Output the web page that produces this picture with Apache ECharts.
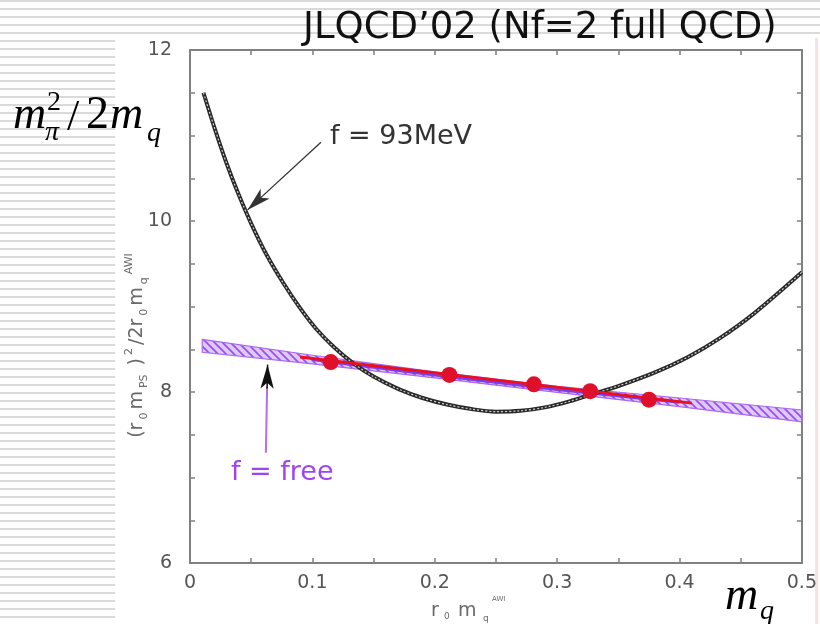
<!DOCTYPE html>
<html><head><meta charset="utf-8">
<script src="https://cdn.jsdelivr.net/npm/echarts@6/dist/echarts.min.js"></script>
<style>html,body{margin:0;padding:0;background:#fff}#c{width:820px;height:624px}</style>
</head><body><div id="c"></div>
<script>
// ---- data ----
const xTickLabels = ['0', '0.1', '0.2', '0.3', '0.4', '0.5'];
const yTickLabels = ['6', '8', '10', '12'];
const ptsX = [0.115, 0.212, 0.281, 0.327, 0.375];
const ptsY = [8.35, 8.20, 8.09, 8.01, 7.91];
const fitX = [0.09, 0.41];
const fitY = [8.41, 7.87];
const bandX  = [0.01, 0.1, 0.2, 0.3, 0.4, 0.5];
const bandLo = [8.465, 8.33, 8.165, 7.995, 7.83, 7.65];
const bandHi = [8.615, 8.43, 8.235, 8.065, 7.93, 7.79];
const f93X = [0.011, 0.020, 0.030, 0.040, 0.050, 0.062, 0.076, 0.090, 0.103, 0.118, 0.133, 0.150, 0.171, 0.190, 0.211, 0.230, 0.250, 0.270, 0.290, 0.310, 0.330, 0.350, 0.380, 0.407, 0.433, 0.461, 0.500];
const f93Y = [11.50, 11.09, 10.67, 10.30, 9.97, 9.62, 9.28, 8.98, 8.74, 8.52, 8.34, 8.18, 8.03, 7.93, 7.85, 7.80, 7.77, 7.78, 7.82, 7.89, 7.98, 8.07, 8.23, 8.41, 8.63, 8.92, 9.40];
const arrow93 = [[0.107, 10.92], [0.047, 10.13]];
const arrowFreeShaft = [[0.062, 7.29], [0.063, 8.06]];
const arrowFreeHead = [[0.063, 8.04], [0.0634, 8.32]];

const zip = (xs, ys) => xs.map((x, i) => [x, ys[i]]);

// hatch pattern for the f = free band
const pc = document.createElement('canvas');
pc.width = 8; pc.height = 8;
const g = pc.getContext('2d');
g.fillStyle = 'rgba(205,170,250,0.65)';
g.fillRect(0, 0, 8, 8);
g.strokeStyle = '#9a4cee';
g.lineWidth = 1.6;
g.beginPath();
g.moveTo(0, 0); g.lineTo(8, 8);
g.moveTo(-4, 4); g.lineTo(4, 12);
g.moveTo(4, -4); g.lineTo(12, 4);
g.stroke();

// background stripes (decoration)
const stripes = [];
for (let y = 0; y < 40; y += 8) stripes.push({type: 'rect', silent: true, z: -10, shape: {x: 0, y: y, width: 820, height: 2}, style: {fill: '#dadada'}});
for (let y = 40; y < 624; y += 8) stripes.push({type: 'rect', silent: true, z: -10, shape: {x: 0, y: y, width: 115, height: 2}, style: {fill: '#dadada'}});
stripes.push({type: 'rect', silent: true, z: -10, shape: {x: 815, y: 38, width: 3, height: 586}, style: {fill: '#fae0e0'}});

const serif = 'Liberation Serif';
const mathTexts = [
  {t: 'm', x: 13, b: 131, fs: 46, it: true},
  {t: '2', x: 47, b: 112, fs: 28, it: false},
  {t: 'π', x: 45, b: 142, fs: 28, it: true},
  {t: '/', x: 67, b: 133, fs: 44, it: false},
  {t: '2', x: 86, b: 131, fs: 46, it: false},
  {t: 'm', x: 110, b: 131, fs: 46, it: true},
  {t: 'q', x: 147, b: 143, fs: 28, it: true},
  {t: 'm', x: 725, b: 612, fs: 46, it: true},
  {t: 'q', x: 760, b: 621, fs: 28, it: true}
].map(o => ({type: 'text', silent: true, z: 50, x: o.x, y: o.b - 0.3375 * o.fs,
  style: {text: o.t, fontFamily: serif, fontSize: o.fs, fontStyle: o.it ? 'italic' : 'normal', fill: '#000', verticalAlign: 'middle', align: 'left'}}));

const grey = '#6a6a6a';
const ynameRich = {
  b: {fontSize: 19, lineHeight: 26, fill: grey, verticalAlign: 'middle', padding: [0, 3, 0, 0], fontFamily: 'DejaVu Sans'},
  s: {fontSize: 11, lineHeight: 26, fill: grey, verticalAlign: 'bottom', padding: [0, 3, 0, 0], fontFamily: 'DejaVu Sans'},
  p: {fontSize: 11, lineHeight: 26, fill: grey, verticalAlign: 'top', padding: [0, 3, 0, 0], fontFamily: 'DejaVu Sans'}
};
const annTexts = [
  {type: 'text', silent: true, z: 50, x: 330, y: 137, style: {text: 'f = 93MeV', fontFamily: 'DejaVu Sans', fontSize: 27, fill: '#333', verticalAlign: 'middle'}},
  {type: 'text', silent: true, z: 50, x: 231, y: 473, style: {text: 'f = free', fontFamily: 'DejaVu Sans', fontSize: 27, fill: '#a044f2', verticalAlign: 'middle'}},
  // y axis name (rotated)
  {type: 'text', silent: true, z: 50, x: 137, y: 344, rotation: Math.PI / 2,
    style: {text: '{b|(r}{s|0}{b|m}{s|PS}{b| )}{p|2}{b|/2r}{s|0}{b|m}{s|q}{p|AWI}', align: 'center', verticalAlign: 'middle',
      fill: grey, fontFamily: 'DejaVu Sans', rich: ynameRich}},
  // x axis name
  {type: 'text', silent: true, z: 50, x: 431, y: 611, style: {text: 'r', fontSize: 19, fontFamily: 'DejaVu Sans', fill: grey, verticalAlign: 'middle'}},
  {type: 'text', silent: true, z: 50, x: 444, y: 617, style: {text: '0', fontSize: 9, fontFamily: 'DejaVu Sans', fill: grey, verticalAlign: 'middle'}},
  {type: 'text', silent: true, z: 50, x: 458, y: 611, style: {text: 'm', fontSize: 19, fontFamily: 'DejaVu Sans', fill: grey, verticalAlign: 'middle'}},
  {type: 'text', silent: true, z: 50, x: 483, y: 619, style: {text: 'q', fontSize: 9, fontFamily: 'DejaVu Sans', fill: grey, verticalAlign: 'middle'}},
  {type: 'text', silent: true, z: 50, x: 492, y: 599, style: {text: 'AWI', fontSize: 7, fontFamily: 'DejaVu Sans', fill: grey, verticalAlign: 'middle'}}
];

const axisCommon = {
  axisLine: {show: true, onZero: false, lineStyle: {color: '#808080', width: 2}},
  axisTick: {show: true, inside: true, length: 5, lineStyle: {color: '#808080', width: 1.5}},
  minorTick: {show: true, length: 5, lineStyle: {color: '#808080', width: 1.5}},
  splitLine: {show: false}
};

const chart = echarts.init(document.getElementById('c'), null, {renderer: 'canvas'});
chart.setOption({
  animation: false,
  backgroundColor: 'transparent',
  title: {text: 'JLQCD’02 (Nf=2 full QCD)', left: 298, top: 5,
    textStyle: {fontFamily: 'DejaVu Sans', fontSize: 37, fontWeight: 'normal', color: '#111'}},
  grid: {left: 190, right: 14, top: 50, bottom: 61},
  xAxis: [
    Object.assign({type: 'value', min: 0, max: 0.5, interval: 0.1, position: 'bottom',
      axisLabel: {margin: 11, fontSize: 19, color: '#555', fontFamily: 'DejaVu Sans',
        formatter: (v) => xTickLabels[Math.round(v * 10)] || ''},
    }, axisCommon, {minorTick: Object.assign({}, axisCommon.minorTick, {splitNumber: 2})}),
    Object.assign({type: 'value', min: 0, max: 0.5, interval: 0.1, position: 'top', axisLabel: {show: false}},
      axisCommon, {minorTick: Object.assign({}, axisCommon.minorTick, {splitNumber: 2})})
  ],
  yAxis: [
    Object.assign({type: 'value', min: 6, max: 12, interval: 2, position: 'left',
      axisLabel: {margin: 18, fontSize: 19, color: '#555', fontFamily: 'DejaVu Sans',
        formatter: (v) => yTickLabels[Math.round((v - 6) / 2)] || ''}
    }, axisCommon, {minorTick: Object.assign({}, axisCommon.minorTick, {splitNumber: 4})}),
    Object.assign({type: 'value', min: 6, max: 12, interval: 2, position: 'right', axisLabel: {show: false}},
      axisCommon, {minorTick: Object.assign({}, axisCommon.minorTick, {splitNumber: 4})})
  ],
  graphic: stripes.concat(mathTexts, annTexts),
  series: [
    {type: 'custom', name: 'band', data: [[bandX[0], bandLo[0]]], z: 2,
      renderItem: function (params, api) {
        const pts = [];
        for (let i = 0; i < bandX.length; i++) pts.push(api.coord([bandX[i], bandHi[i]]));
        for (let i = bandX.length - 1; i >= 0; i--) pts.push(api.coord([bandX[i], bandLo[i]]));
        return {type: 'polygon', shape: {points: pts},
          style: {fill: {image: pc, repeat: 'repeat'}, stroke: '#a868f2', lineWidth: 1.2}};
      }},
    {type: 'line', name: 'bandMid', data: zip(bandX.slice(1, 5), bandX.slice(1, 5).map((x, i) => (bandLo[i + 1] + bandHi[i + 1]) / 2)),
      symbol: 'none', lineStyle: {color: '#7a3cf2', width: 3}, z: 3},
    {type: 'line', name: 'f93', data: zip(f93X, f93Y), smooth: 0.3, symbol: 'none',
      lineStyle: {color: '#2a2a2a', width: 4}, z: 4},
    {type: 'line', name: 'f93inner', data: zip(f93X, f93Y), smooth: 0.3, symbol: 'none',
      lineStyle: {color: '#cfcfcf', width: 1.2, type: [2, 2]}, z: 4},
    {type: 'line', name: 'fit', data: zip(fitX, fitY), symbol: 'none',
      lineStyle: {color: '#ea1020', width: 3}, z: 5},
    {type: 'scatter', name: 'pts', data: zip(ptsX, ptsY), symbolSize: 16,
      itemStyle: {color: '#e0102a', opacity: 1}, z: 6,
      markLine: {silent: true, animation: false, label: {show: false},
        data: [
          [{coord: arrow93[0], symbol: 'none', lineStyle: {color: '#333', width: 1.3, type: 'solid'}},
           {coord: arrow93[1], symbol: 'arrow', symbolSize: [10, 24]}],
          [{coord: arrowFreeShaft[0], symbol: 'none', lineStyle: {color: '#b070f0', width: 2, type: 'solid'}},
           {coord: arrowFreeShaft[1], symbol: 'none'}],
          [{coord: arrowFreeHead[0], symbol: 'none', lineStyle: {color: '#111', width: 1.5, type: 'solid'}},
           {coord: arrowFreeHead[1], symbol: 'arrow', symbolSize: [10, 24]}]
        ]}}
  ]
});
</script></body></html>
